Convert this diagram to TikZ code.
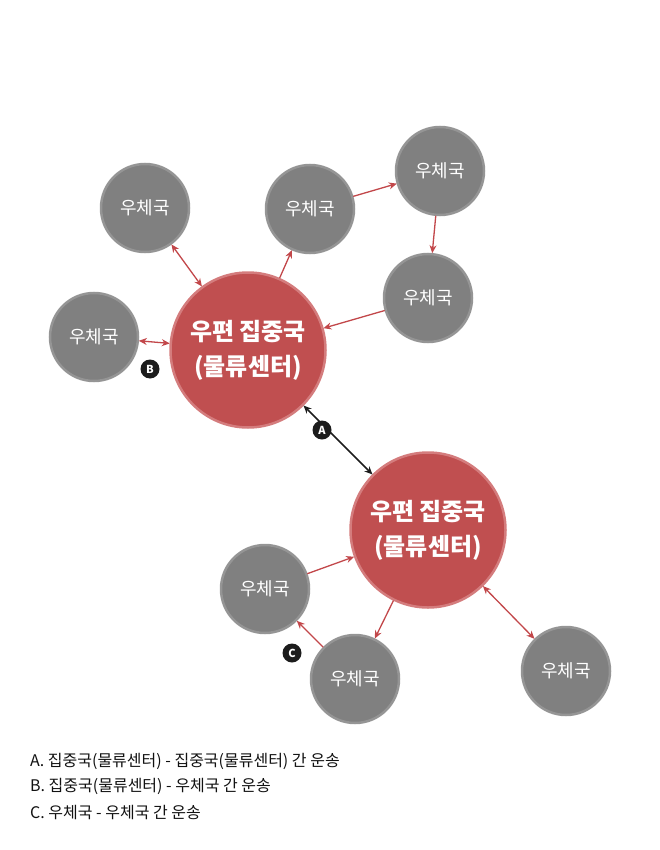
\documentclass[tikz,border=0pt]{standalone}
\usepackage{fontspec}
\setmainfont{Noto Sans CJK KR}
\usetikzlibrary{arrows.meta}
\definecolor{hubred}{HTML}{C04F50}
\definecolor{hubedge}{HTML}{D47C7D}
\definecolor{postgray}{HTML}{808080}
\definecolor{postedge}{HTML}{959595}
\definecolor{arrred}{HTML}{C2474A}
\definecolor{tagblack}{HTML}{1C1C1C}
\definecolor{legendtext}{HTML}{111111}
\tikzset{
  hub/.style={circle, fill=hubred, draw=hubedge, line width=2.5pt, minimum size=155pt, inner sep=0pt, outer sep=1pt, text=white, font=\fontsize{24}{35}\selectfont\bfseries, align=center},
  post/.style={circle, fill=postgray, draw=postedge, line width=2.5pt, minimum size=88pt, inner sep=0pt, outer sep=1pt, text=white, font=\fontsize{18}{20}\selectfont},
  link/.style={draw=arrred, line width=1.3pt, -{Stealth[length=8pt,width=7pt]}},
  blink/.style={draw=arrred, line width=1.3pt, {Stealth[length=8pt,width=7pt]}-{Stealth[length=8pt,width=7pt]}},
  klink/.style={draw=tagblack, line width=1.5pt, {Stealth[length=8pt,width=7pt]}-{Stealth[length=8pt,width=7pt]}},
  tag/.style={circle, fill=tagblack, minimum size=19pt, inner sep=0pt, text=white, font=\fontsize{11}{11}\selectfont\bfseries},
  legend/.style={anchor=west, text=legendtext, font=\fontsize{16}{18}\selectfont, inner sep=0pt}
}
\begin{document}
\begin{tikzpicture}[x=1pt,y=-1pt]
\useasboundingbox (0,0) rectangle (660,850);
\node[hub] (h1) at (248,350) {우편 집중국\\(물류센터)};
\node[hub] (h2) at (428,530) {우편 집중국\\(물류센터)};
\node[post] (p1) at (145,208) {우체국};
\node[post] (p2) at (94,337) {우체국};
\node[post] (p3) at (310,209) {우체국};
\node[post] (p4) at (440,171) {우체국};
\node[post] (p5) at (428,298) {우체국};
\node[post] (p6) at (265,589) {우체국};
\node[post] (p7) at (355,679) {우체국};
\node[post] (p8) at (566,671) {우체국};
\draw[blink] (p1) -- (h1);
\draw[blink] (p2) -- (h1);
\draw[link] (h1) -- (p3);
\draw[link] (p3) -- (p4);
\draw[link] (p4) -- (p5);
\draw[link] (p5) -- (h1);
\draw[klink] (h1) -- (h2);
\draw[link] (p6) -- (h2);
\draw[link] (h2) -- (p7);
\draw[link] (p7) -- (p6);
\draw[blink] (h2) -- (p8);
\node[tag] (ta) at (322,430) {A};
\node[tag] (tb) at (150,369) {B};
\node[tag] (tc) at (292,653) {C};
\node[legend] (l1) at (30,761) {A. 집중국(물류센터) - 집중국(물류센터) 간 운송};
\node[legend] (l2) at (30,786) {B. 집중국(물류센터) - 우체국 간 운송};
\node[legend] (l3) at (30,812) {C. 우체국 - 우체국 간 운송};
\end{tikzpicture}
\end{document}
